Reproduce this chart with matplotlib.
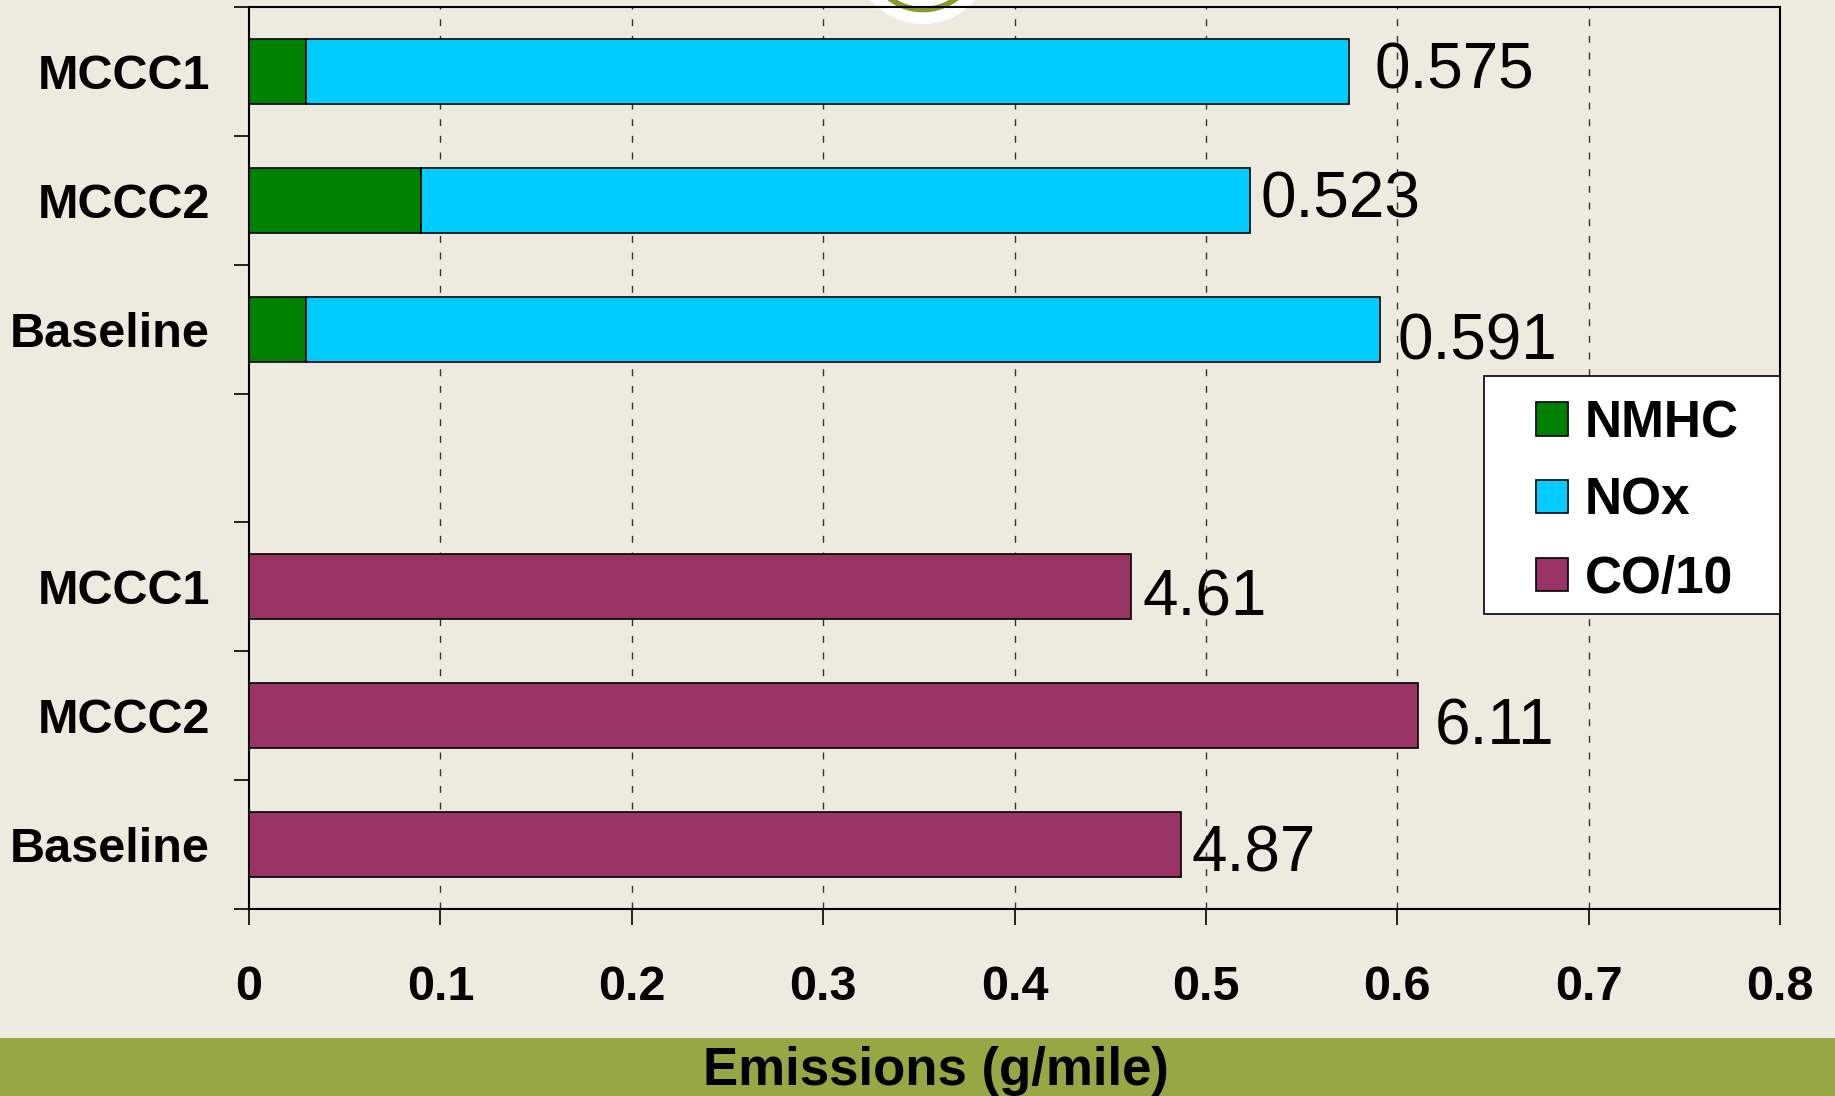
import matplotlib
matplotlib.use("Agg")
import matplotlib.pyplot as plt
from matplotlib.patches import Rectangle, Circle, Patch
from matplotlib.transforms import offset_copy
from matplotlib import font_manager

# ---- data ----
categories = ["MCCC1", "MCCC2", "Baseline", "", "MCCC1", "MCCC2", "Baseline"]
fuel_cases = ["MCCC1", "MCCC2", "Baseline"]
nmhc = [0.03, 0.09, 0.03]          # g/mile
nox = [0.545, 0.433, 0.561]        # g/mile
co = [4.61, 6.11, 4.87]            # g/mile (plotted as CO/10)
x_ticks = [0, 0.1, 0.2, 0.3, 0.4, 0.5, 0.6, 0.7, 0.8]
x_tick_labels = ["0", "0.1", "0.2", "0.3", "0.4", "0.5", "0.6", "0.7", "0.8"]
series_names = ["NMHC", "NOx", "CO/10"]

# ---- style ----
BG = "#EDEBE0"
BAND = "#97A744"
C_NMHC = "#008000"
C_NOX = "#00CCFF"
C_CO = "#993366"
FONT = "Liberation Sans"
DPI = 100
W, H = 1835, 1096

names = {f.name for f in font_manager.fontManager.ttflist}
narrow = "Liberation Sans Narrow" if "Liberation Sans Narrow" in names else FONT

plt.rcParams["font.family"] = [FONT, "DejaVu Sans"]

fig = plt.figure(figsize=(W / DPI, H / DPI), dpi=DPI, facecolor=BG)

# bottom title band
fig.patches.append(Rectangle((0, 0), 1, 58.3 / H, transform=fig.transFigure,
                             facecolor=BAND, edgecolor="none", zorder=0))

# emblem peeking in at the top edge
fig.patches.append(Circle((923, H + 45.4), 69.4, transform=None,
                          facecolor="white", edgecolor="none", zorder=0))
fig.patches.append(Circle((923, H + 45.4), 55, transform=None,
                          facecolor="none", edgecolor="#879A2E", linewidth=4, zorder=0))

ax_left, ax_right, ax_top, ax_bottom = 249, 1780, 7, 909
ax = fig.add_axes([ax_left / W, (H - ax_bottom) / H,
                   (ax_right - ax_left) / W, (ax_bottom - ax_top) / H])
ax.set_facecolor("none")
ax.set_zorder(1)

pos_top = [0, 1, 2]
pos_bot = [4, 5, 6]
bar_h = 0.505
edge = dict(edgecolor="black", linewidth=1.2)

ax.barh(pos_top, nmhc, height=bar_h, color=C_NMHC, label=series_names[0], zorder=3, **edge)
ax.barh(pos_top, nox, left=nmhc, height=bar_h, color=C_NOX, label=series_names[1], zorder=3, **edge)
co_scaled = [v / 10 for v in co]
ax.barh(pos_bot, co_scaled, height=bar_h, color=C_CO, label=series_names[2], zorder=3, **edge)

# value labels at bar ends (pixel nudges for placement)
totals = [a + b for a, b in zip(nmhc, nox)]
label_items = [(t, p, f"{t:.3f}") for t, p in zip(totals, pos_top)] + \
              [(s, p, f"{v:.2f}") for s, v, p in zip(co_scaled, co, pos_bot)]
nudge_dx = [25, 11, 17, 11, 16, 11]
nudge_dy = [-6, -6, 7.5, 5.5, 6, 4]
cap = 46 * 0.716 * DPI / 72
for (xv, yv, txt), dx, dy in zip(label_items, nudge_dx, nudge_dy):
    tr = offset_copy(ax.transData, fig=fig, x=dx * 72 / DPI,
                     y=-(cap / 2 + dy) * 72 / DPI, units="points")
    ax.text(xv, yv, txt, transform=tr, ha="left", va="baseline",
            fontsize=46, color="black", zorder=5)

# axes limits and ticks
ax.set_xlim(0, 0.8)
ax.set_ylim(6.5, -0.5)
ax.set_xticks(x_ticks)
ax.set_xticklabels(x_tick_labels, fontsize=35, fontweight="bold")
ax.set_yticks(range(len(categories)))
ax.set_yticklabels(categories, fontsize=35, fontweight="bold")
ax.set_yticks([i - 0.5 for i in range(len(categories) + 1)], minor=True)
ax.tick_params(axis="y", which="major", length=0, pad=28)
ax.tick_params(axis="y", which="minor", length=11, width=1.2, direction="out")
ax.tick_params(axis="x", which="major", length=11.5, width=1.2, direction="out", pad=28.5)

for s in ax.spines.values():
    s.set_linewidth(1.5)
    s.set_color("black")

# dashed vertical gridlines
for xv in x_ticks[1:-1]:
    ax.axvline(xv, color="#333333", linewidth=1.0, linestyle=(0, (5, 7)), zorder=1)


def ax_frac(px, py):
    return ((px - ax_left) / (ax_right - ax_left),
            (ax_bottom - py) / (ax_bottom - ax_top))


# legend box
bx0, by0 = ax_frac(1484, 614)
bx1, by1 = ax_frac(1780, 376)
ax.add_patch(Rectangle((bx0, by0), bx1 - bx0, by1 - by0, transform=ax.transAxes,
                       facecolor="white", edgecolor="black", linewidth=1.2,
                       zorder=6, clip_on=False))

# legend entries
handles = [Patch(facecolor=c, edgecolor="black", linewidth=1.2)
           for c in (C_NMHC, C_NOX, C_CO)]
leg = ax.legend(handles, series_names, loc="upper left",
                bbox_to_anchor=ax_frac(1536, 399), borderaxespad=0, borderpad=0,
                prop=dict(family=FONT, weight="bold", size=37),
                handlelength=0.62, handleheight=0.62, handletextpad=0.33,
                labelspacing=0.56, frameon=False)
leg.set_zorder(7)

# axis title in the bottom band
fig.text(936 / W, 11 / H, "Emissions (g/mile)", ha="center", va="baseline",
         fontsize=38, fontweight="bold", family=[narrow, "DejaVu Sans"], color="black")

fig.savefig("out.png", dpi=DPI, facecolor=BG)
